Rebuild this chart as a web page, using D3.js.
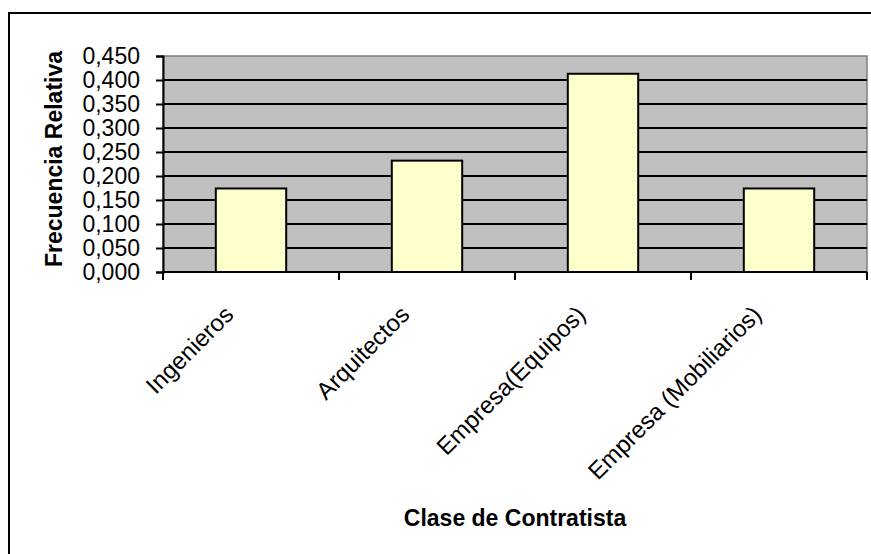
<!DOCTYPE html>
<html>
<head>
<meta charset="utf-8">
<script src="https://d3js.org/d3.v7.min.js"></script>
<style>
  body { margin: 0; background: #fff; }
  svg text { font-family: "Liberation Sans", Arial, sans-serif; }
</style>
</head>
<body>
<script>
// data
var categories = ["Ingenieros", "Arquitectos", "Empresa(Equipos)", "Empresa (Mobiliarios)"];
var frecuencias = [0.174, 0.232, 0.413, 0.174];
var yTicks = [0, 0.05, 0.1, 0.15, 0.2, 0.25, 0.3, 0.35, 0.4, 0.45];

var W = 871, H = 554;
var plot = {left: 163, right: 867, top: 56, bottom: 272};

var es = d3.formatLocale({decimal: ",", thousands: ".", grouping: [3], currency: ["", " €"]});
var fmt = es.format(".3f");

var svg = d3.select("body").append("svg")
  .attr("width", W)
  .attr("height", H);

// outer chart border (continues past the window)
svg.append("rect")
  .attr("x", 9).attr("y", 13)
  .attr("width", W + 20).attr("height", H + 20)
  .attr("fill", "#fff")
  .attr("stroke", "#000")
  .attr("stroke-width", 2);

var x = d3.scaleBand()
  .domain(categories)
  .range([plot.left, plot.right])
  .paddingInner(0.6)
  .paddingOuter(0.3);

var y = d3.scaleLinear()
  .domain([0, 0.45])
  .range([plot.bottom, plot.top]);

// plot area
svg.append("rect")
  .attr("x", plot.left).attr("y", plot.top)
  .attr("width", plot.right - plot.left)
  .attr("height", plot.bottom - plot.top)
  .attr("fill", "#c0c0c0")
  .attr("stroke", "#808080")
  .attr("stroke-width", 1.5);

// gridlines
svg.append("g").selectAll("line")
  .data(yTicks.filter(function(d){ return d > 0 && d < 0.45; }))
  .enter().append("line")
  .attr("x1", plot.left).attr("x2", plot.right)
  .attr("y1", function(d){ return y(d); })
  .attr("y2", function(d){ return y(d); })
  .attr("stroke", "#000")
  .attr("stroke-width", 2);

// bars
svg.append("g").selectAll("rect")
  .data(frecuencias)
  .enter().append("rect")
  .attr("x", function(d, i){ return x(categories[i]); })
  .attr("y", function(d){ return y(d); })
  .attr("width", x.bandwidth())
  .attr("height", function(d){ return y(0) - y(d); })
  .attr("fill", "#ffffcc")
  .attr("stroke", "#000")
  .attr("stroke-width", 2);

// y axis
var yAx = d3.axisLeft(y)
  .tickValues(yTicks)
  .tickSize(7)
  .tickPadding(16)
  .tickFormat(fmt);
var yGroup = svg.append("g")
  .attr("transform", "translate(" + plot.left + ",0)")
  .call(yAx);
yGroup.select(".domain").attr("stroke", "#000").attr("stroke-width", 2);
yGroup.selectAll(".tick line").attr("stroke", "#000").attr("stroke-width", 2);
yGroup.selectAll("text")
  .attr("font-size", "23px")
  .attr("fill", "#000")
  .attr("font-family", "Liberation Sans, Arial, sans-serif");

// x axis: baseline with ticks between categories
svg.append("line")
  .attr("x1", plot.left).attr("x2", plot.right)
  .attr("y1", plot.bottom).attr("y2", plot.bottom)
  .attr("stroke", "#000").attr("stroke-width", 2);

var step = x.step();
var bounds = categories.map(function(c){ return x(c) + x.bandwidth() / 2 - step / 2; });
bounds.push(plot.right);
svg.append("g").selectAll("line")
  .data(bounds)
  .enter().append("line")
  .attr("x1", function(d){ return d; })
  .attr("x2", function(d){ return d; })
  .attr("y1", plot.bottom).attr("y2", plot.bottom + 8)
  .attr("stroke", "#000").attr("stroke-width", 2);

svg.append("g").selectAll("text")
  .data(categories)
  .enter().append("text")
  .attr("transform", function(d){
    var cx = x(d) + x.bandwidth() / 2 - 16;
    return "translate(" + cx + "," + 316 + ") rotate(-45)";
  })
  .attr("text-anchor", "end")
  .attr("font-size", "24px")
  .attr("fill", "#000")
  .text(function(d){ return d; });

// axis titles
svg.append("text")
  .attr("transform", "translate(62,159) rotate(-90)")
  .attr("text-anchor", "middle")
  .attr("font-size", "23px")
  .attr("font-weight", "bold")
  .text("Frecuencia Relativa");

svg.append("text")
  .attr("x", 515).attr("y", 526)
  .attr("text-anchor", "middle")
  .attr("font-size", "23px")
  .attr("font-weight", "bold")
  .text("Clase de Contratista");
</script>
</body>
</html>
